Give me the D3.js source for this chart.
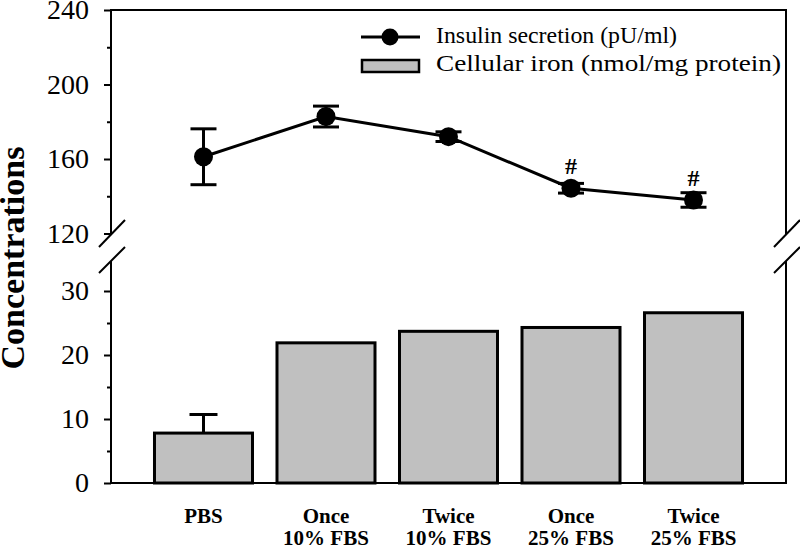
<!DOCTYPE html>
<html><head><meta charset="utf-8">
<script src="https://cdn.jsdelivr.net/npm/d3@7"></script>
<style>body{margin:0;background:#fff}svg{display:block}text{font-family:"Liberation Serif","Times New Roman",serif}</style>
</head><body>
<svg id="c" width="800" height="547"></svg>
<script>
const categories = ["PBS", "Once\n10% FBS", "Twice\n10% FBS", "Once\n25% FBS", "Twice\n25% FBS"];
const insulin = [161.2, 182.8, 172.0, 144.3, 138.0];
const insulinErr = [15.0, 5.6, 2.6, 2.6, 3.9];
const insulinMark = ["", "", "", "#", "#"];
const iron = [7.8, 21.9, 23.7, 24.3, 26.6];
const ironErr = [2.9, 0, 0, 0, 0];
const topTicks = [120, 160, 200, 240];
const topMinor = [140, 180, 220];
const botTicks = [0, 10, 20, 30];
const botMinor = [5, 15, 25];
const legendLabels = ["Insulin secretion (pU/ml)", "Cellular iron (nmol/mg protein)"];
const yTitle = "Concentrations";

const svg = d3.select("#c");
const L = 111, R = 786;
const x = d3.scaleBand().domain(categories).range([L, R]).paddingInner(0.2).paddingOuter(0.355);
const yT = d3.scaleLinear().domain([120, 240]).range([233.5, 10]);
const yB = d3.scaleLinear().domain([0, 30]).range([483, 291]);
const cx = d => x(d) + x.bandwidth() / 2;

// bars
svg.append("g").selectAll("rect").data(categories).join("rect")
  .attr("x", d => x(d)).attr("width", x.bandwidth())
  .attr("y", (d, i) => yB(iron[i])).attr("height", (d, i) => yB(0) - yB(iron[i]))
  .attr("fill", "#c0c0c0").attr("stroke", "#000").attr("stroke-width", 3);
// bar error bars
const be = svg.append("g").attr("stroke", "#000").attr("stroke-width", 3);
categories.forEach((c, i) => {
  if (ironErr[i] > 0) {
    be.append("line").attr("x1", cx(c)).attr("x2", cx(c)).attr("y1", yB(iron[i])).attr("y2", yB(iron[i] + ironErr[i]));
    be.append("line").attr("x1", cx(c) - 14).attr("x2", cx(c) + 14).attr("y1", yB(iron[i] + ironErr[i])).attr("y2", yB(iron[i] + ironErr[i]));
  }
});

// axes frame
const fr = svg.append("g").attr("stroke", "#000").attr("stroke-width", 2).attr("fill", "none");
fr.append("path").attr("d", `M${L},235V10H${R}V235`);
fr.append("path").attr("d", `M${L},261V483H${R}V261`);
// break marks
[L, R].forEach(bx => {
  fr.append("line").attr("x1", bx - 12).attr("y1", 247).attr("x2", bx + 14).attr("y2", 220);
  fr.append("line").attr("x1", bx - 12).attr("y1", 273).attr("x2", bx + 14).attr("y2", 247);
});

function yaxis(scale, major, minor) {
  const g = svg.append("g").attr("transform", `translate(${L},0)`)
    .call(d3.axisLeft(scale).tickValues(major).tickSize(7).tickSizeOuter(0).tickPadding(15).tickFormat(d3.format("d")));
  g.select(".domain").remove();
  g.selectAll(".tick line").attr("stroke-width", 2);
  g.selectAll(".tick text").attr("font-size", 28).attr("font-family", "Liberation Serif").attr("fill", "#000");
  const m = svg.append("g").attr("transform", `translate(${L},0)`)
    .call(d3.axisLeft(scale).tickValues(minor).tickSize(4).tickSizeOuter(0).tickFormat(""));
  m.select(".domain").remove();
  m.selectAll(".tick line").attr("stroke-width", 2);
}
yaxis(yT, topTicks, topMinor);
yaxis(yB, botTicks, botMinor);

// x labels
const xl = svg.append("g");
categories.forEach(c => {
  const t = xl.append("text").attr("x", cx(c)).attr("y", 523).attr("text-anchor", "middle")
    .attr("font-size", 21).attr("font-weight", "bold");
  c.split("\n").forEach((s, j) => t.append("tspan").attr("x", cx(c)).attr("y", 523 + j * 22).text(s));
});

// insulin line
const line = d3.line().x((d, i) => cx(categories[i])).y(d => yT(d));
svg.append("path").datum(insulin).attr("d", line).attr("fill", "none").attr("stroke", "#000").attr("stroke-width", 3);
const ee = svg.append("g").attr("stroke", "#000").attr("stroke-width", 3);
categories.forEach((c, i) => {
  const hi = yT(insulin[i] + insulinErr[i]), lo = yT(insulin[i] - insulinErr[i]);
  ee.append("line").attr("x1", cx(c)).attr("x2", cx(c)).attr("y1", hi).attr("y2", lo);
  ee.append("line").attr("x1", cx(c) - 13).attr("x2", cx(c) + 13).attr("y1", hi).attr("y2", hi);
  ee.append("line").attr("x1", cx(c) - 13).attr("x2", cx(c) + 13).attr("y1", lo).attr("y2", lo);
});
svg.append("g").selectAll("circle").data(insulin).join("circle")
  .attr("cx", (d, i) => cx(categories[i])).attr("cy", d => yT(d)).attr("r", 9.5).attr("fill", "#000");
svg.append("g").selectAll("text").data(insulin).join("text")
  .attr("x", (d, i) => cx(categories[i])).attr("y", d => yT(d) - 14)
  .attr("text-anchor", "middle").attr("font-size", 24).attr("font-weight", "bold")
  .text((d, i) => insulinMark[i]);

// legend
const lg = svg.append("g");
lg.append("line").attr("x1", 361).attr("x2", 420).attr("y1", 37).attr("y2", 37).attr("stroke", "#000").attr("stroke-width", 3);
lg.append("circle").attr("cx", 390).attr("cy", 37).attr("r", 8.5).attr("fill", "#000");
lg.append("rect").attr("x", 362).attr("y", 60).attr("width", 57).attr("height", 12).attr("fill", "#c0c0c0").attr("stroke", "#000").attr("stroke-width", 2.5);
lg.append("text").attr("x", 436).attr("y", 43).attr("font-size", 24).attr("textLength", 241).attr("lengthAdjust", "spacingAndGlyphs").text(legendLabels[0]);
lg.append("text").attr("x", 436).attr("y", 71).attr("font-size", 24).attr("textLength", 345).attr("lengthAdjust", "spacingAndGlyphs").text(legendLabels[1]);

// y title
svg.append("text").attr("transform", "translate(24,258) rotate(-90)").attr("text-anchor", "middle")
  .attr("font-size", 34).attr("font-weight", "bold").text(yTitle);
</script>
</body></html>
